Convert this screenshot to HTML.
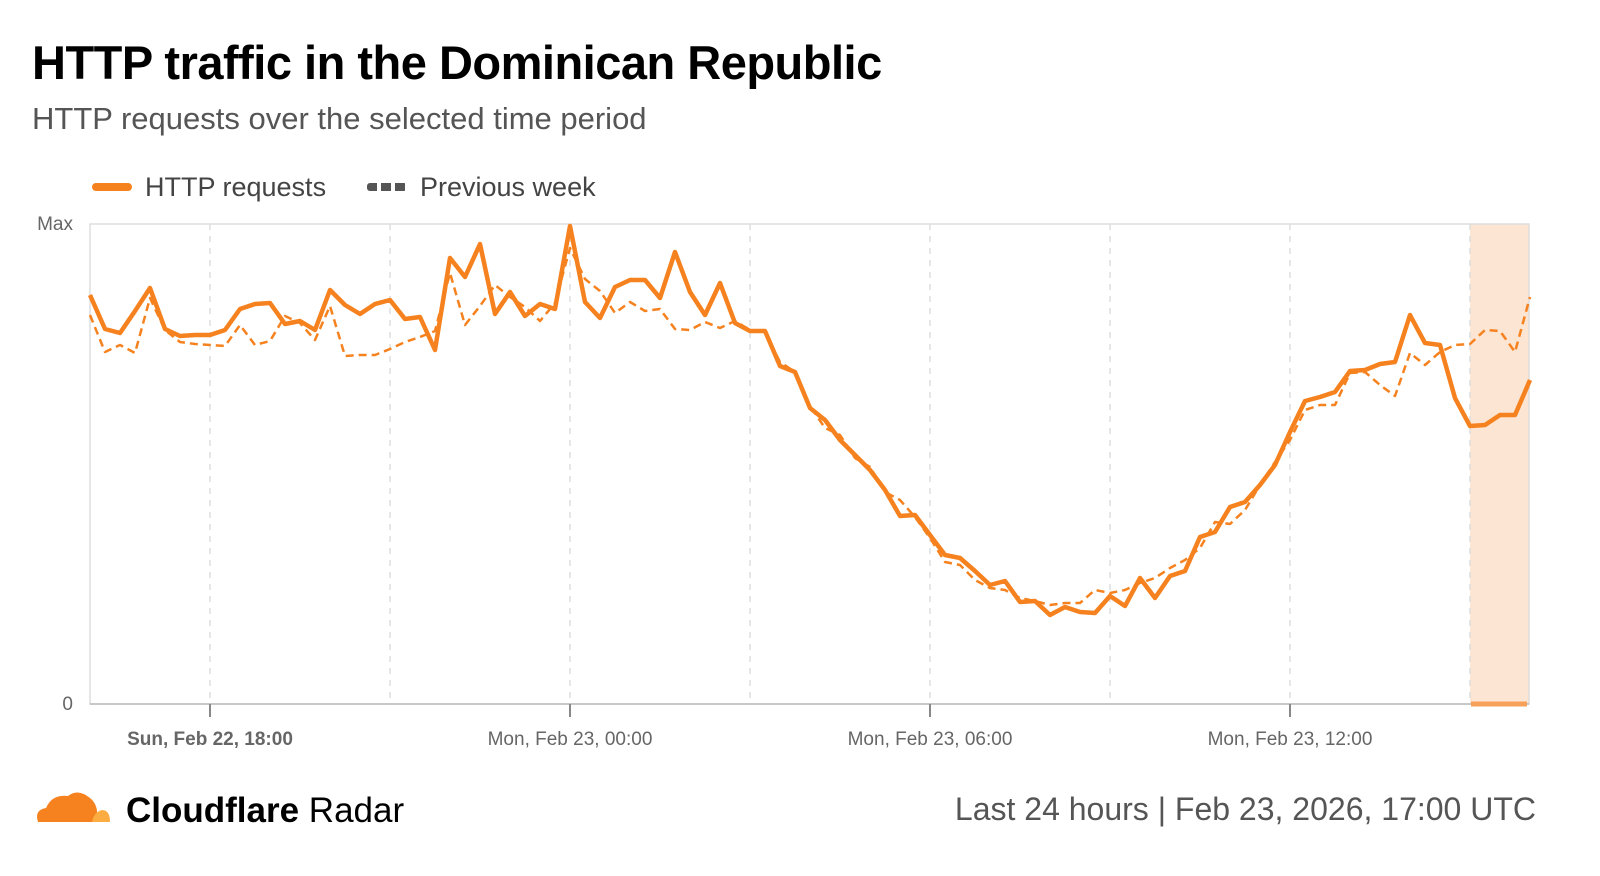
<!DOCTYPE html><html><head><style>
body{margin:0;width:1600px;height:876px;background:#fff;font-family:"Liberation Sans",Arial,sans-serif;overflow:hidden;position:relative}
.t{position:absolute;white-space:nowrap}
</style></head><body>
<div class="t" style="left:32px;top:35px;font-size:47px;font-weight:bold;color:#000;letter-spacing:-0.5px">HTTP traffic in the Dominican Republic</div>
<div class="t" style="left:32px;top:101px;font-size:31px;color:#555">HTTP requests over the selected time period</div>
<div style="position:absolute;left:92px;top:183px;width:40px;height:8px;border-radius:4px;background:#f6821f"></div>
<div class="t" style="left:145px;top:172px;font-size:27px;color:#444">HTTP requests</div>
<div style="position:absolute;left:367px;top:183px;width:40px;height:8px;background:repeating-linear-gradient(90deg,#555 0 10px,transparent 10px 14px);border-radius:3px"></div>
<div class="t" style="left:420px;top:172px;font-size:27px;color:#444">Previous week</div>
<svg width="1600" height="876" style="position:absolute;left:0;top:0" xmlns="http://www.w3.org/2000/svg">
<rect x="1470" y="224" width="59" height="480" fill="#fde5d3"/>
<rect x="90" y="224" width="1439" height="480" fill="none" stroke="#ddd" stroke-width="1.5"/>
<g stroke="#ddd" stroke-width="1.5" stroke-dasharray="6,6">
<line x1="210" y1="224" x2="210" y2="704"/><line x1="390" y1="224" x2="390" y2="704"/><line x1="570" y1="224" x2="570" y2="704"/><line x1="750" y1="224" x2="750" y2="704"/><line x1="930" y1="224" x2="930" y2="704"/><line x1="1110" y1="224" x2="1110" y2="704"/><line x1="1290" y1="224" x2="1290" y2="704"/><line x1="1470" y1="224" x2="1470" y2="704"/>
</g>
<line x1="90" y1="704" x2="1529" y2="704" stroke="#bbb" stroke-width="1.5"/>
<g stroke="#888" stroke-width="2"><line x1="210" y1="704" x2="210" y2="717"/><line x1="570" y1="704" x2="570" y2="717"/><line x1="930" y1="704" x2="930" y2="717"/><line x1="1290" y1="704" x2="1290" y2="717"/></g>
<line x1="1471" y1="704" x2="1527" y2="704" stroke="#f6a05a" stroke-width="5"/>
<text x="73" y="230" font-size="19" fill="#666" text-anchor="end" font-family="Liberation Sans">Max</text>
<text x="73" y="710" font-size="19" fill="#666" text-anchor="end" font-family="Liberation Sans">0</text>
<g font-size="19" fill="#666" text-anchor="middle" font-family="Liberation Sans">
<text x="210" y="745" font-weight="bold">Sun, Feb 22, 18:00</text>
<text x="570" y="745">Mon, Feb 23, 00:00</text>
<text x="930" y="745">Mon, Feb 23, 06:00</text>
<text x="1290" y="745">Mon, Feb 23, 12:00</text>
</g>
<polyline id="d" fill="none" stroke="#f6821f" stroke-width="2.5" stroke-dasharray="8,5" stroke-linejoin="round" points=""/>
<polyline id="s" fill="none" stroke="#f6821f" stroke-width="4.5" stroke-linejoin="round" points=""/>
<g transform="translate(30,786)">
<path d="M8 36 Q4 24 16 22 Q22 8 38 10 Q48 2 60 12 Q70 20 66 36 Z" fill="#f6821f"/>
<path d="M62 36 Q64 26 72 24 Q80 24 80 36 Z" fill="#fbad41"/>
</g>
<text x="126" y="822" font-size="35" font-weight="bold" fill="#000" font-family="Liberation Sans">Cloudflare <tspan font-weight="normal">Radar</tspan></text>
<text x="1536" y="820" font-size="32" fill="#555" text-anchor="end" font-family="Liberation Sans">Last 24 hours  |  Feb 23, 2026, 17:00 UTC</text>
</svg>
<script>
var s=[295,329,333,311,288,329,336,335,335,330,309,304,303,324,321,330,290,305,314,304,300,319,317,350,258,277,244,314,292,316,304,309,226,302,318,287,280,280,298,252,292,315,283,323,331,331,366,372,408,420,440,455,470,490,516,515,535,555,558,571,585,581,602,601,615,607,612,613,596,606,578,598,576,571,537,532,507,502,485,465,432,401,397,392,371,370,364,362,315,343,345,398,426,425,415,415,380];
var d=[315,352,345,353,298,330,342,344,345,346,325,345,341,316,323,340,306,356,355,355,349,342,337,331,273,325,306,285,297,307,321,303,248,279,291,313,302,311,309,329,330,322,328,321,330,332,362,372,406,428,435,458,467,492,500,517,538,562,565,580,588,590,598,601,605,603,603,590,593,590,583,578,568,560,548,522,524,510,485,462,440,410,405,405,373,372,385,396,353,365,352,345,344,330,331,352,297];
function p(a){return a.map(function(y,i){return (90+15*i)+","+y}).join(" ")}
document.getElementById("s").setAttribute("points",p(s));
document.getElementById("d").setAttribute("points",p(d));
</script>
</body></html>
